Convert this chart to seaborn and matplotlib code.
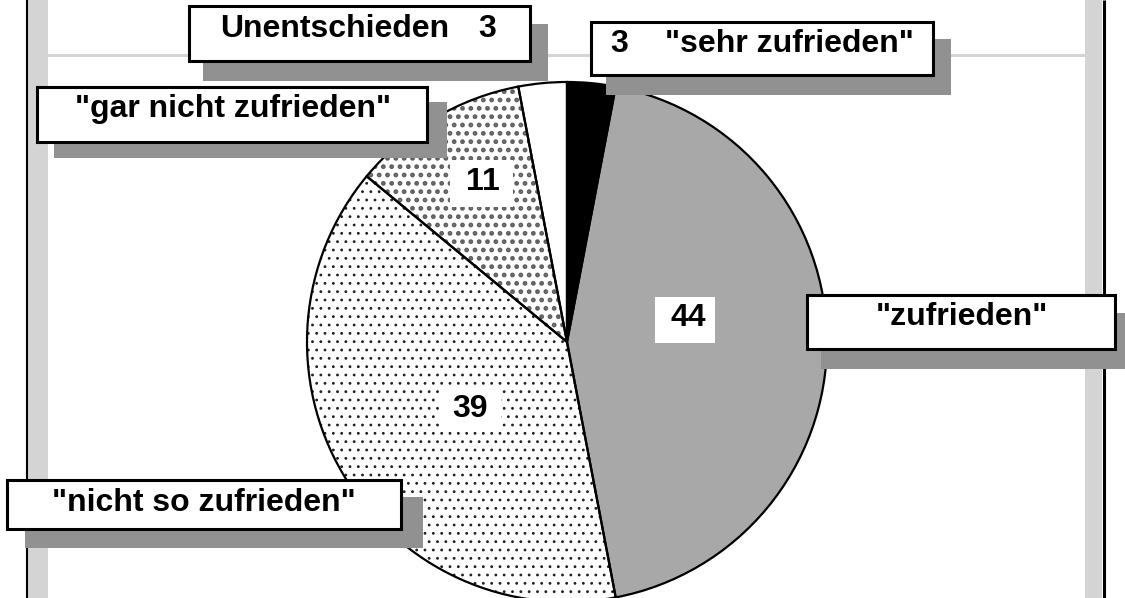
import matplotlib
matplotlib.use("Agg")
import matplotlib.pyplot as plt
from matplotlib.patches import Rectangle
import seaborn as sns

# ---- data -------------------------------------------------------------
categories = ['"sehr zufrieden"', '"zufrieden"', '"nicht so zufrieden"',
              '"gar nicht zufrieden"', 'Unentschieden']
values = [3, 44, 39, 11, 3]
value_labels = ['3', '44', '39', '11', '3']

# ---- style ------------------------------------------------------------
sns.set_theme(style="white")
plt.rcParams['font.family'] = ['Liberation Sans', 'DejaVu Sans']

W, H = 1125, 598
fig = plt.figure(figsize=(W / 100, H / 100), dpi=100)
ax = fig.add_axes([0, 0, 1, 1])


def Y(py):
    return H - py


FS = 23
LW_BOX = 2.2
SHADOW = '#919191'
FRAME = '#d4d4d4'

# ---- frame ------------------------------------------------------------
ax.add_patch(Rectangle((28, 0), 20, H, fc=FRAME, ec='none', zorder=0.5))
ax.add_patch(Rectangle((1085, 0), 17, H, fc=FRAME, ec='none', zorder=0.5))
ax.add_patch(Rectangle((48, Y(57)), 1037, 3, fc=FRAME, ec='none', zorder=0.5))
ax.plot([27, 27], [0, H], color='black', lw=1.5, zorder=0.6, solid_capstyle='butt')
ax.plot([1103.5, 1103.5], [0, H], color='black', lw=2.2, zorder=0.6, solid_capstyle='butt')

# ---- pie --------------------------------------------------------------
center = (567, Y(342))
radius = 260
face = ['black', '#a8a8a8', 'white', 'white', 'white']
hatches = [None, None, '..', '..', None]
hatch_cols = [None, None, '#1e1e1e', '#5e5e5e', None]
hatch_lws = [None, None, 0.8, 2.2, None]

wedges, _ = ax.pie(values, startangle=90, counterclock=False,
                   center=center, radius=radius, colors=face,
                   wedgeprops=dict(linewidth=0))
for w, h, hc, hl in zip(wedges, hatches, hatch_cols, hatch_lws):
    if h:
        w.set_hatch(h)
        w.set_edgecolor(hc)
        w.set_linewidth(0)
        if hasattr(w, 'set_hatch_linewidth'):
            w.set_hatch_linewidth(hl)

ax.pie(values, startangle=90, counterclock=False,
       center=center, radius=radius,
       wedgeprops=dict(fill=False, edgecolor='black', linewidth=1.6))

ax.set_xlim(0, W)
ax.set_ylim(0, H)
ax.set_aspect('equal')
ax.axis('off')


# ---- value boxes inside the pie ---------------------------------------
def pbox(x0, y0, x1, y1, **kw):
    return Rectangle((x0, Y(y1)), x1 - x0, y1 - y0, **kw)


inner = {  # index -> (box, text centre x, baseline)
    1: ((655, 297, 715, 343), 688.5, 326),
    2: ((440, 385, 501, 432), 470.5, 417),
    3: ((450, 160, 513, 207), 483, 190),
}
for i, (bx, tx, ty) in inner.items():
    ax.add_patch(pbox(*bx, fc='white', ec='none', zorder=2))
    ax.text(tx, Y(ty), value_labels[i], ha='center', va='baseline',
            fontsize=FS, fontweight='bold', color='black', zorder=5)

# ---- label boxes with shadows -----------------------------------------
labels_layout = {
    # index: (box, shadow)
    4: ((189, 6, 530, 61), (203, 24, 548, 81)),
    0: ((591, 22, 933, 75), (606, 39, 951, 95)),
    3: ((37, 87, 427, 142), (54, 102, 447, 158)),
    1: ((807, 295, 1115, 349), (821, 313, 1140, 369)),
    2: ((7, 480, 401, 529), (25, 497, 423, 548)),
}
for i, (bx, sh) in labels_layout.items():
    ax.add_patch(pbox(*sh, fc=SHADOW, ec='none', zorder=3))
    ax.add_patch(pbox(*bx, fc='white', ec='black', lw=LW_BOX, zorder=4))

txt = dict(ha='center', va='baseline', fontsize=FS, fontweight='bold',
           color='black', zorder=5)
ax.text(335, Y(37), categories[4], **txt)
ax.text(487.5, Y(37), value_labels[4], **txt)
ax.text(619.5, Y(52), value_labels[0], **txt)
ax.text(789.5, Y(52), categories[0], **txt)
ax.text(233.5, Y(117), categories[3], **txt)
ax.text(962, Y(325), categories[1], **txt)
ax.text(204, Y(511), categories[2], **txt)

fig.savefig('out.png', dpi=100, facecolor='white')
